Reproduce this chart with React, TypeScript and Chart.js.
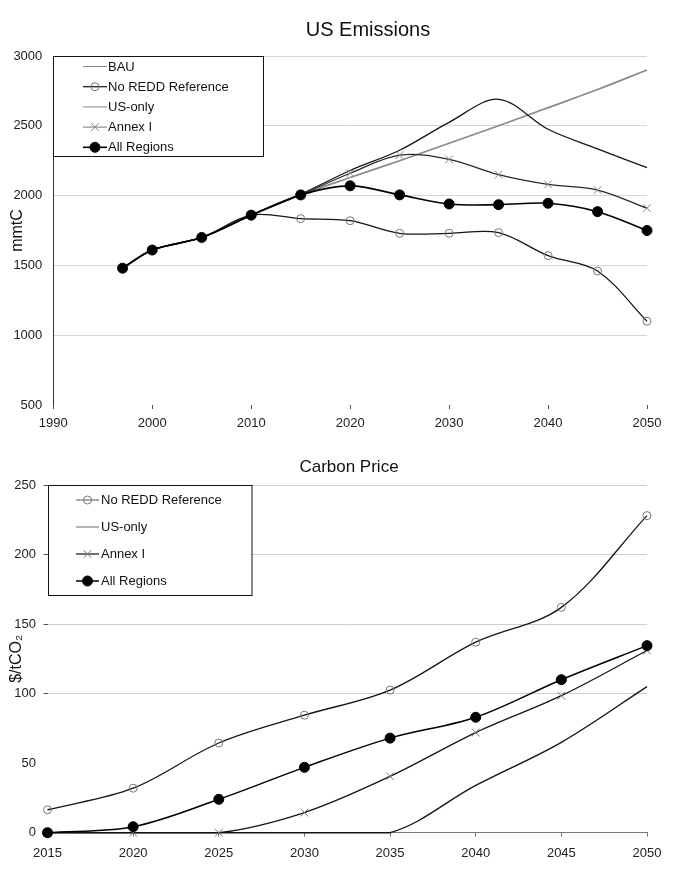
import React, { useEffect, useRef } from 'react';
import { Chart, registerables } from 'chart.js';

Chart.register(...registerables);

const FONT = '"Liberation Sans", Arial, Helvetica, sans-serif';

// ---- US emissions (mmtC) ----
const emissionYears = [1997, 2000, 2005, 2010, 2015, 2020, 2025, 2030, 2035, 2040, 2045, 2050];
const emissionsBAU = [1480, 1610, 1700, 1860, 2005, 2130, 2250, 2375, 2500, 2630, 2760, 2900];
const emissionsNoREDD = [1480, 1610, 1700, 1860, 1835, 1820, 1730, 1730, 1735, 1570, 1460, 1100];
const emissionsUSOnly = [1480, 1610, 1700, 1860, 2010, 2180, 2325, 2525, 2690, 2475, 2335, 2200];
const emissionsAnnexI = [1480, 1610, 1700, 1860, 2005, 2160, 2290, 2260, 2150, 2080, 2040, 1910];
const emissionsAllRegions = [1480, 1610, 1700, 1860, 2005, 2070, 2005, 1940, 1935, 1945, 1885, 1750];

// ---- Carbon price ($/tCO2) ----
const priceYears = [2015, 2020, 2025, 2030, 2035, 2040, 2045, 2050];
const priceNoREDD = [16.5, 32, 64.5, 84.5, 102.5, 137, 162, 228];
const priceUSOnly = [0, 0, 0, 0, 0, 34, 65, 105];
const priceAnnexI = [0, 0, 0, 14.5, 40.5, 72, 98.5, 131];
const priceAllRegions = [0, 4.3, 24, 47, 68, 83, 110, 134.5];

const toPoints = (xs: number[], ys: number[]) => xs.map((x, i) => ({ x, y: ys[i] }));

function drawMarker(
  ctx: CanvasRenderingContext2D,
  style: string,
  x: number,
  y: number,
  r: number,
  stroke: string,
  fill: string,
  lw: number
) {
  if (!r) return;
  ctx.save();
  ctx.lineWidth = lw;
  ctx.strokeStyle = stroke;
  ctx.fillStyle = fill;
  ctx.beginPath();
  if (style === 'crossRot') {
    const d = r * Math.SQRT1_2;
    ctx.moveTo(x - d, y - d);
    ctx.lineTo(x + d, y + d);
    ctx.moveTo(x + d, y - d);
    ctx.lineTo(x - d, y + d);
    ctx.stroke();
  } else {
    ctx.arc(x, y, r, 0, Math.PI * 2);
    ctx.fill();
    ctx.stroke();
  }
  ctx.restore();
}

// Boxed legend anchored to the top-left corner of the plot area
const boxLegend = {
  id: 'boxLegend',
  afterDraw(chart: any, _args: any, opts: any) {
    const { ctx, chartArea } = chart;
    const left = Math.round(chartArea.left);
    const top = Math.round(chartArea.top);
    ctx.save();
    ctx.fillStyle = '#ffffff';
    ctx.fillRect(left, top, opts.width, opts.height);
    ctx.strokeStyle = '#111';
    ctx.lineWidth = 1;
    ctx.strokeRect(left + 0.5, top + 0.5, opts.width, opts.height);
    ctx.font = `${opts.fontSize}px ${FONT}`;
    ctx.textBaseline = 'middle';
    ctx.textAlign = 'left';
    chart.data.datasets.forEach((ds: any, i: number) => {
      const y = top + opts.firstRow + i * opts.rowGap;
      const x0 = left + opts.lineStart;
      const x1 = left + opts.lineEnd;
      ctx.strokeStyle = ds.legendLine || ds.borderColor;
      ctx.lineWidth = ds.legendWidth || 1;
      ctx.beginPath();
      ctx.moveTo(x0, y);
      ctx.lineTo(x1, y);
      ctx.stroke();
      drawMarker(
        ctx,
        ds.pointStyle,
        (x0 + x1) / 2,
        y,
        ds.pointRadius,
        ds.pointBorderColor,
        ds.pointBackgroundColor,
        ds.pointBorderWidth
      );
      ctx.fillStyle = '#111';
      ctx.fillText(ds.label, left + opts.textStart, y + 0.5);
    });
    ctx.restore();
  },
};

// Chart heading drawn at a fixed spot on the canvas
const heading = {
  id: 'heading',
  afterDraw(chart: any, _args: any, opts: any) {
    const { ctx } = chart;
    ctx.save();
    ctx.font = `${opts.size}px ${FONT}`;
    ctx.fillStyle = '#111';
    ctx.textAlign = 'center';
    ctx.textBaseline = 'middle';
    ctx.fillText(opts.text, opts.x, opts.y);
    ctx.restore();
  },
};

const plain = (v: any) => String(v);
const TRANSPARENT = 'rgba(0,0,0,0)';

function series(label: string, xs: number[], ys: number[], extra: any) {
  return {
    label,
    data: toPoints(xs, ys),
    tension: 0.34,
    pointHoverRadius: 0,
    fill: false,
    clip: false,
    ...extra,
  };
}

function emissionsConfig(): any {
  return {
    type: 'line',
    data: {
      datasets: [
        series('BAU', emissionYears, emissionsBAU, {
          borderColor: '#8a8a8a', borderWidth: 1.7, pointRadius: 0, pointStyle: 'circle', order: 4,
          legendLine: '#8a8a8a',
        }),
        series('No REDD Reference', emissionYears, emissionsNoREDD, {
          borderColor: '#151515', borderWidth: 1.3, pointStyle: 'circle', pointRadius: 4,
          pointBorderColor: '#777', pointBackgroundColor: TRANSPARENT, pointBorderWidth: 1, order: 2,
          legendLine: '#222', legendWidth: 1.3,
        }),
        series('US-only', emissionYears, emissionsUSOnly, {
          borderColor: '#151515', borderWidth: 1.3, pointRadius: 0, pointStyle: 'circle', order: 3,
          legendLine: '#888',
        }),
        series('Annex I', emissionYears, emissionsAnnexI, {
          borderColor: '#2a2a2a', borderWidth: 1.3, pointStyle: 'crossRot', pointRadius: 5.5,
          pointBorderColor: '#888', pointBackgroundColor: TRANSPARENT, pointBorderWidth: 1, order: 1,
          legendLine: '#777',
        }),
        series('All Regions', emissionYears, emissionsAllRegions, {
          borderColor: '#000', borderWidth: 1.6, pointStyle: 'circle', pointRadius: 5,
          pointBorderColor: '#000', pointBackgroundColor: '#000', pointBorderWidth: 1, order: 0,
          legendLine: '#000', legendWidth: 1.6,
        }),
      ],
    },
    options: {
      responsive: false,
      animation: false,
      events: [],
      font: { family: FONT },
      layout: { padding: { top: 56, right: 50, left: 0, bottom: 0 } },
      plugins: {
        legend: { display: false },
        tooltip: { enabled: false },
        heading: { text: 'US Emissions', x: 368, y: 30, size: 20 },
        boxLegend: {
          width: 210, height: 100, firstRow: 10.5, rowGap: 20.2,
          lineStart: 30, lineEnd: 54, textStart: 55, fontSize: 13,
        },
      },
      scales: {
        x: {
          type: 'linear',
          min: 1990,
          max: 2050,
          afterFit: (s: any) => { s.height = 35; },
          border: { display: false },
          grid: { display: true, drawOnChartArea: false, drawTicks: true, tickLength: 4, tickColor: '#555' },
          ticks: { stepSize: 10, callback: plain, color: '#222', padding: 7, font: { size: 13, family: FONT } },
        },
        y: {
          min: 500,
          max: 3000,
          afterFit: (s: any) => { s.width = 53.3; },
          border: { display: true, color: '#333', width: 1 },
          grid: {
            drawTicks: false,
            color: (c: any) => (c.tick && c.tick.value === 500 ? TRANSPARENT : '#d6d6d6'),
          },
          ticks: { stepSize: 500, callback: plain, color: '#222', padding: 11, font: { size: 13, family: FONT } },
          title: {
            display: true, text: 'mmtC', color: '#111',
            font: { size: 16, family: FONT }, padding: { top: 8, bottom: 0 },
          },
        },
      },
    },
    plugins: [boxLegend, heading],
  };
}

function priceConfig(): any {
  return {
    type: 'line',
    data: {
      datasets: [
        series('No REDD Reference', priceYears, priceNoREDD, {
          borderColor: '#151515', borderWidth: 1.3, pointStyle: 'circle', pointRadius: 4,
          pointBorderColor: '#777', pointBackgroundColor: TRANSPARENT, pointBorderWidth: 1, order: 2,
          legendLine: '#555',
        }),
        series('US-only', priceYears, priceUSOnly, {
          borderColor: '#151515', borderWidth: 1.4, pointRadius: 0, pointStyle: 'circle', order: 3,
          legendLine: '#666',
        }),
        series('Annex I', priceYears, priceAnnexI, {
          borderColor: '#151515', borderWidth: 1.3, pointStyle: 'crossRot', pointRadius: 5.5,
          pointBorderColor: '#777', pointBackgroundColor: TRANSPARENT, pointBorderWidth: 1, order: 1,
          legendLine: '#222', legendWidth: 1.3,
        }),
        series('All Regions', priceYears, priceAllRegions, {
          borderColor: '#000', borderWidth: 1.5, pointStyle: 'circle', pointRadius: 5,
          pointBorderColor: '#000', pointBackgroundColor: '#000', pointBorderWidth: 1, order: 0,
          legendLine: '#000', legendWidth: 1.5,
        }),
      ],
    },
    options: {
      responsive: false,
      animation: false,
      events: [],
      font: { family: FONT },
      layout: { padding: { top: 45, right: 50, left: 0, bottom: 0 } },
      plugins: {
        legend: { display: false },
        tooltip: { enabled: false },
        heading: { text: 'Carbon Price', x: 349, y: 27, size: 17 },
        boxLegend: {
          width: 203.5, height: 110, firstRow: 15, rowGap: 27,
          lineStart: 28, lineEnd: 51, textStart: 53, fontSize: 13,
        },
      },
      scales: {
        x: {
          type: 'linear',
          min: 2015,
          max: 2050,
          afterFit: (s: any) => { s.height = 40.3; },
          border: { display: true, color: '#777', width: 1 },
          grid: { display: true, drawOnChartArea: false, drawTicks: true, tickLength: 4, tickColor: '#777' },
          ticks: { stepSize: 5, callback: plain, color: '#222', padding: 9, font: { size: 13, family: FONT } },
        },
        y: {
          min: 0,
          max: 250,
          afterFit: (s: any) => { s.width = 47.5; },
          border: { display: false },
          grid: {
            drawTicks: true,
            tickLength: 4,
            color: (c: any) => (c.tick && c.tick.value >= 100 ? '#cfcfcf' : TRANSPARENT),
            tickColor: (c: any) => (c.tick && c.tick.value >= 100 ? '#555' : TRANSPARENT),
          },
          ticks: { stepSize: 50, callback: plain, color: '#222', padding: 7.5, font: { size: 13, family: FONT } },
          title: {
            display: true, text: '$/tCO₂', color: '#111',
            font: { size: 16, family: FONT }, padding: { top: 7, bottom: 0 },
          },
        },
      },
    },
    plugins: [boxLegend, heading],
  };
}

export default function App() {
  const topRef = useRef<HTMLCanvasElement>(null);
  const bottomRef = useRef<HTMLCanvasElement>(null);

  useEffect(() => {
    const emissions = new Chart(topRef.current as HTMLCanvasElement, emissionsConfig());
    const price = new Chart(bottomRef.current as HTMLCanvasElement, priceConfig());
    return () => {
      emissions.destroy();
      price.destroy();
    };
  }, []);

  return (
    <div style={{ position: 'absolute', left: 0, top: 0, width: 697, height: 873, background: '#fff' }}>
      <canvas
        ref={topRef}
        width={697}
        height={440}
        style={{ position: 'absolute', left: 0, top: 0, width: 697, height: 440 }}
      />
      <canvas
        ref={bottomRef}
        width={697}
        height={433}
        style={{ position: 'absolute', left: 0, top: 440, width: 697, height: 433 }}
      />
    </div>
  );
}
